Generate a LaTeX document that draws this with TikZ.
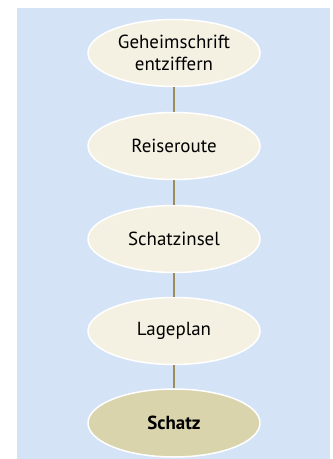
\documentclass[tikz,border=0pt]{standalone}
\usepackage{fontspec}
\setmainfont{PT Sans}
\usetikzlibrary{shapes.geometric}
\definecolor{bgblue}{HTML}{D4E4F6}
\definecolor{cream}{HTML}{F4F1E2}
\definecolor{gold}{HTML}{DAD4AC}
\definecolor{linkc}{HTML}{9C8C5C}
\begin{document}
\begin{tikzpicture}[x=1bp,y=-1bp,
  stage/.style={ellipse, draw=white, line width=1.5bp, fill=cream,
    minimum width=172bp, minimum height=67bp, inner sep=0pt,
    align=center, font=\fontsize{19}{22.5}\selectfont},
  goal/.style={stage, fill=gold, minimum height=68bp, font=\fontsize{19}{22.5}\selectfont\bfseries},
  link/.style={draw=linkc, line width=2.6bp}]
\useasboundingbox (0,0) rectangle (332,459);
\fill[bgblue] (17,8) rectangle (330,459);
\node[stage] (a) at (174,53) {Geheimschrift\\entziffern};
\node[stage] (b) at (174,146) {Reiseroute};
\node[stage] (c) at (174,239) {Schatzinsel};
\node[stage] (d) at (174,331) {Lageplan};
\node[goal] (e) at (174,423) {Schatz};
\draw[link] (a) -- (b);
\draw[link] (b) -- (c);
\draw[link] (c) -- (d);
\draw[link] (d) -- (e);
\end{tikzpicture}
\end{document}
